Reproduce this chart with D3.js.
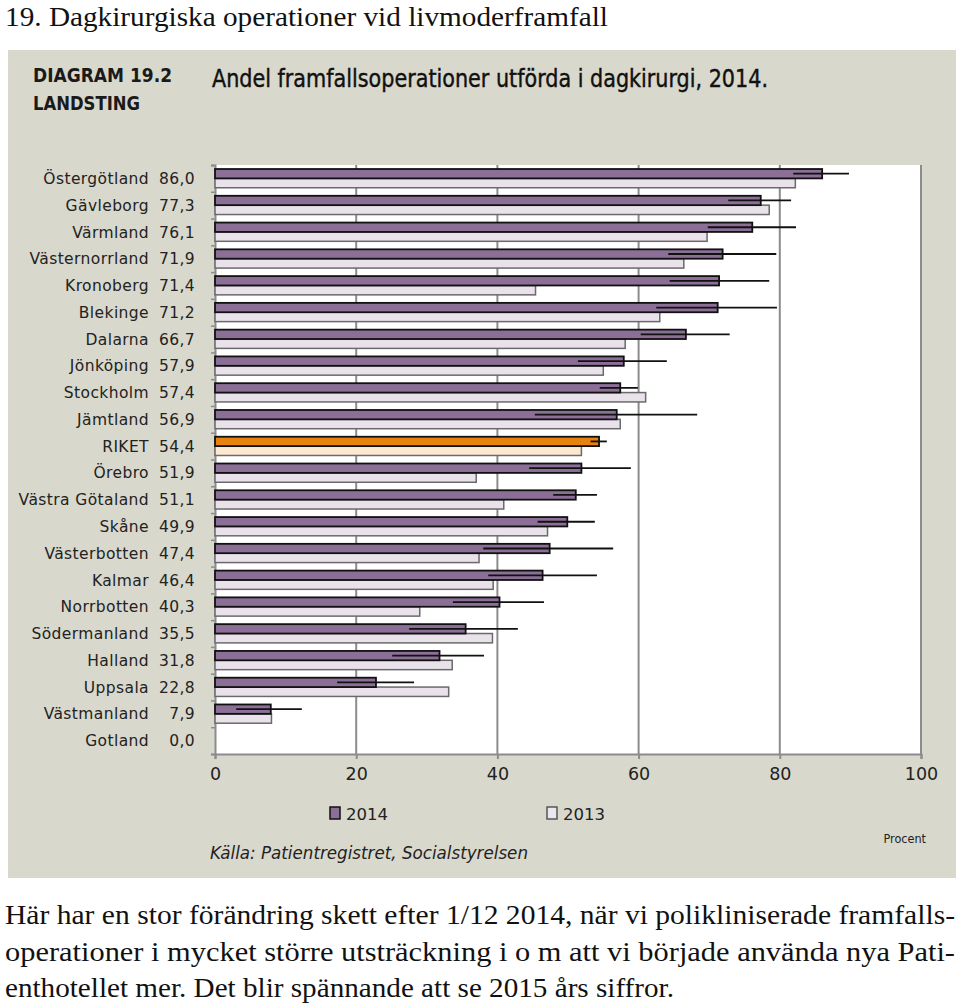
<!DOCTYPE html>
<html><head><meta charset="utf-8">
<script src="https://cdn.jsdelivr.net/npm/d3@7"></script>
<style>
html,body{margin:0;padding:0;background:#fff;}
svg{display:block;}
</style></head>
<body>
<svg id="c" width="960" height="1005"></svg>
<script>
const categories = ["Östergötland","Gävleborg","Värmland","Västernorrland","Kronoberg","Blekinge","Dalarna","Jönköping","Stockholm","Jämtland","RIKET","Örebro","Västra Götaland","Skåne","Västerbotten","Kalmar","Norrbotten","Södermanland","Halland","Uppsala","Västmanland","Gotland"];
const values2014 = [86.0,77.3,76.1,71.9,71.4,71.2,66.7,57.9,57.4,56.9,54.4,51.9,51.1,49.9,47.4,46.4,40.3,35.5,31.8,22.8,7.9,0.0];
const values2013 = [82.2,78.5,69.7,66.4,45.4,63.0,58.1,55.0,61.0,57.4,51.9,37.0,40.9,47.1,37.4,39.4,29.0,39.3,33.6,33.1,8.0,0];
const ciLow  = [81.9,72.7,69.8,64.2,64.4,62.5,60.3,51.4,54.5,45.3,53.2,44.5,47.9,45.7,38.0,38.7,33.7,27.5,25.1,17.3,3.0,null];
const ciHigh = [89.8,81.6,82.3,79.5,78.5,79.6,72.9,64.0,59.9,68.3,55.5,58.9,54.1,53.8,56.4,54.1,46.6,42.9,38.1,28.2,12.3,null];
const seriesNames = ["2014","2013"];
const xTicks = [0,20,40,60,80,100];
const highlight = "RIKET";

const titleText = "19. Dagkirurgiska operationer vid livmoderframfall";
const diagramLabel = ["DIAGRAM 19.2","LANDSTING"];
const chartTitle = "Andel framfallsoperationer utförda i dagkirurgi, 2014.";
const sourceText = "Källa: Patientregistret, Socialstyrelsen";
const unitText = "Procent";
const paragraph = [
 "Här har en stor förändring skett efter 1/12 2014, när vi polikliniserade framfalls-",
 "operationer i mycket större utsträckning i o m att vi började använda nya Pati-",
 "enthotellet mer. Det blir spännande att se 2015 års siffror."
];

const fmt = v => v.toFixed(1).replace(".", ",");
const svg = d3.select("#c");
const SANS = "'DejaVu Sans', sans-serif";
const COND = "'DejaVu Sans Condensed', 'DejaVu Sans', sans-serif";
const SERIF = "'Liberation Serif', 'Times New Roman', serif";

// page title
svg.append("text").attr("x",5).attr("y",26)
  .attr("font-family",SERIF).attr("font-size",27).attr("fill","#111")
  .attr("textLength",603).attr("lengthAdjust","spacingAndGlyphs")
  .text(titleText);

// panel
svg.append("rect").attr("x",8).attr("y",50).attr("width",948).attr("height",828).attr("fill","#d9d8cc");

svg.append("text").attr("x",33).attr("y",82).attr("font-family",COND).attr("font-weight","bold")
  .attr("font-size",19).attr("fill","#1a1a1a").attr("textLength",139).attr("lengthAdjust","spacingAndGlyphs")
  .text(diagramLabel[0]);
svg.append("text").attr("x",33).attr("y",110).attr("font-family",COND).attr("font-weight","bold")
  .attr("font-size",19).attr("fill","#1a1a1a").attr("textLength",107).attr("lengthAdjust","spacingAndGlyphs")
  .text(diagramLabel[1]);
svg.append("text").attr("x",212).attr("y",87).attr("font-family",COND)
  .attr("font-size",24).attr("fill","#111").attr("stroke","#111").attr("stroke-width",0.4)
  .attr("textLength",556).attr("lengthAdjust","spacingAndGlyphs")
  .text(chartTitle);

// scales
const x = d3.scaleLinear().domain([0,100]).range([215,921]);
const y = d3.scaleBand().domain(categories).range([165,754]).paddingInner(0.3).paddingOuter(0.15);
const ySub = d3.scaleBand().domain(seriesNames).range([0,y.bandwidth()]);
const yIdx = d3.scaleLinear().domain([0,categories.length]).range([165,754]);

// plot background
svg.append("rect").attr("x",x(0)).attr("y",165).attr("width",x(100)-x(0)).attr("height",754-165).attr("fill","#fff");

// gridlines
svg.append("g").selectAll("line").data(xTicks.filter(d=>d>0)).join("line")
  .attr("x1",d=>x(d)).attr("x2",d=>x(d)).attr("y1",165).attr("y2",754)
  .attr("stroke","#8c8c8c").attr("stroke-width",2);

// bottom axis
const gx = svg.append("g").attr("transform","translate(0,754)")
  .call(d3.axisBottom(x).tickValues(xTicks).tickSize(5).tickPadding(9).tickFormat(d3.format("d")));
gx.select(".domain").attr("stroke","#8c8c8c").attr("stroke-width",2);
gx.selectAll(".tick line").attr("stroke","#8c8c8c").attr("stroke-width",2);
gx.selectAll(".tick text").attr("font-family",SANS).attr("font-size",17.5).attr("fill","#222");

// left axis (category boundaries)
const gy = svg.append("g").attr("transform",`translate(${x(0)},0)`)
  .call(d3.axisLeft(yIdx).tickValues(d3.range(categories.length+1)).tickSize(4).tickFormat(""));
gy.select(".domain").attr("stroke","#8c8c8c").attr("stroke-width",2);
gy.selectAll(".tick line").attr("stroke","#8c8c8c").attr("stroke-width",1.5);

// bars
const rows = categories.map((c,i)=>({c, v14:values2014[i], v13:values2013[i], lo:ciLow[i], hi:ciHigh[i]}));
const fill14 = d => d.c===highlight ? "#e8820e" : "#8b6f97";
const fill13 = d => d.c===highlight ? "#fde8d2" : "#e9e2eb";

svg.append("g").selectAll("rect").data(rows.filter(d=>d.v13>0)).join("rect")
  .attr("x",x(0)).attr("y",d=>y(d.c)+ySub("2013"))
  .attr("width",d=>x(d.v13)-x(0)).attr("height",ySub.bandwidth())
  .attr("fill",fill13).attr("stroke","#6a6a6a").attr("stroke-width",1.5);

svg.append("g").selectAll("rect").data(rows.filter(d=>d.v14>0)).join("rect")
  .attr("x",x(0)).attr("y",d=>y(d.c)+ySub("2014"))
  .attr("width",d=>x(d.v14)-x(0)).attr("height",ySub.bandwidth())
  .attr("fill",fill14).attr("stroke","#111").attr("stroke-width",1.8);

// confidence intervals
svg.append("g").selectAll("line").data(rows.filter(d=>d.lo!=null)).join("line")
  .attr("x1",d=>x(d.lo)).attr("x2",d=>x(d.hi))
  .attr("y1",d=>y(d.c)+ySub("2014")+ySub.bandwidth()/2)
  .attr("y2",d=>y(d.c)+ySub("2014")+ySub.bandwidth()/2)
  .attr("stroke","#111").attr("stroke-width",1.8);

// category labels
const lab = svg.append("g").attr("font-family",SANS).attr("font-size",15.5).attr("fill","#222").attr("letter-spacing","0.4");
lab.selectAll("text.name").data(rows).join("text").attr("class","name")
  .attr("x",149).attr("y",d=>y(d.c)+y.bandwidth()/2).attr("dy","0.36em").attr("text-anchor","end")
  .text(d=>d.c);
lab.selectAll("text.val").data(rows).join("text").attr("class","val")
  .attr("x",195).attr("y",d=>y(d.c)+y.bandwidth()/2).attr("dy","0.36em").attr("text-anchor","end")
  .text(d=>fmt(d.v14));

// legend
const legX = [330,547];
const leg = svg.append("g");
seriesNames.forEach((s,i)=>{
  leg.append("rect").attr("x",legX[i]).attr("y",807).attr("width",10).attr("height",12)
    .attr("fill", i===0 ? "#8b6f97" : "#ece6ee").attr("stroke", i===0 ? "#111" : "#555").attr("stroke-width",1.5);
  leg.append("text").attr("x",legX[i]+16).attr("y",820).attr("font-family",SANS).attr("font-size",16.5).attr("fill","#222").text(s);
});

svg.append("text").attr("x",926).attr("y",843).attr("text-anchor","end").attr("font-family",COND)
  .attr("font-size",12.5).attr("fill","#222").text(unitText);
svg.append("text").attr("x",210).attr("y",859).attr("font-family",COND).attr("font-style","italic")
  .attr("font-size",17).attr("fill","#222").attr("textLength",318).attr("lengthAdjust","spacingAndGlyphs")
  .text(sourceText);

// paragraph
const pw = [950,950,669];
paragraph.forEach((t,i)=>{
  svg.append("text").attr("x",5).attr("y",924+i*36.5).attr("font-family",SERIF).attr("font-size",28).attr("fill","#111")
    .attr("textLength",pw[i]).attr("lengthAdjust","spacingAndGlyphs").text(t);
});
</script>
</body></html>
